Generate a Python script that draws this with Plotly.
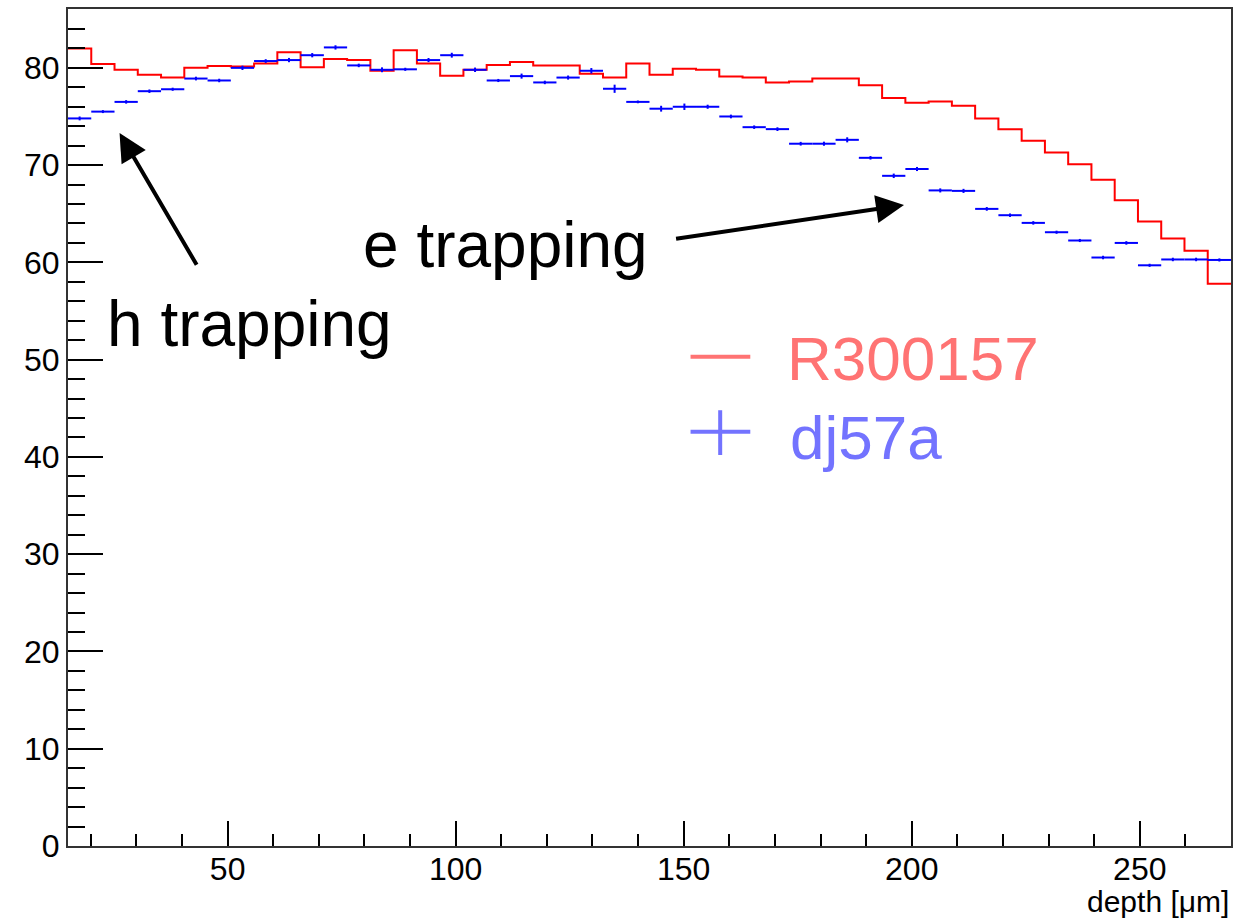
import plotly.graph_objects as go

# Histogram binning (depth in micrometres)
bin_lo, bin_hi, n_bins = 15.0, 270.0, 50

# R300157: histogram contents per bin
r300157 = [82.0, 80.4, 79.8, 79.3, 79.0, 80.0, 80.2, 80.15, 80.45, 81.6,
           80.05, 80.9, 80.8, 79.7, 81.8, 80.45, 79.2, 79.8, 80.3, 80.6,
           80.25, 80.25, 79.4, 79.0, 80.45, 79.3, 79.9, 79.8, 79.1, 79.0,
           78.5, 78.6, 78.9, 78.9, 78.2, 76.9, 76.4, 76.55, 76.1, 74.8,
           73.7, 72.5, 71.3, 70.1, 68.5, 66.4, 64.2, 62.45, 61.2, 57.8]

# dj57a: bin contents and their errors
dj57a = [74.8, 75.5, 76.5, 77.6, 77.8, 78.9, 78.7, 80.0, 80.7, 80.8,
         81.3, 82.1, 80.25, 79.8, 79.85, 80.8, 81.3, 79.8, 78.7, 79.15,
         78.5, 79.0, 79.7, 77.85, 76.5, 75.8, 76.0, 76.0, 75.0, 73.9,
         73.7, 72.2, 72.2, 72.6, 70.75, 68.9, 69.6, 67.4, 67.35, 65.5,
         64.85, 64.06, 63.1, 62.25, 60.5, 62.0, 59.7, 60.3, 60.3, 60.25]
dj57a_err = [0.2, 0.15, 0.18, 0.18, 0.16, 0.19, 0.18, 0.22, 0.19, 0.22,
             0.22, 0.22, 0.18, 0.25, 0.16, 0.21, 0.25, 0.23, 0.16, 0.26,
             0.18, 0.21, 0.28, 0.42, 0.14, 0.3, 0.33, 0.21, 0.19, 0.18,
             0.19, 0.19, 0.21, 0.26, 0.18, 0.23, 0.21, 0.21, 0.21, 0.19,
             0.18, 0.18, 0.16, 0.16, 0.18, 0.18, 0.16, 0.18, 0.18, 0.16]

width = (bin_hi - bin_lo) / n_bins
edges = [bin_lo + i * width for i in range(n_bins + 1)]
centers = [bin_lo + (i + 0.5) * width for i in range(n_bins)]

FONT = "Liberation Sans, Arial, Helvetica, sans-serif"
RED = "#ff0000"
BLUE = "#0000ff"

fig = go.Figure()

# step histogram for R300157
fig.add_trace(go.Scatter(
    x=edges, y=r300157 + [r300157[-1]],
    mode="lines", line=dict(color=RED, width=2, shape="hv"),
    showlegend=False, hoverinfo="skip",
))

# dj57a points with bin-width horizontal bars and vertical errors
fig.add_trace(go.Scatter(
    x=centers, y=dj57a, mode="markers",
    marker=dict(size=1, color=BLUE),
    error_x=dict(type="constant", value=width / 2, width=0, thickness=2, color=BLUE),
    error_y=dict(type="data", array=dj57a_err, width=0, thickness=2, color=BLUE),
    showlegend=False, hoverinfo="skip",
))

big = dict(family=FONT, size=64, color="black")
arrow_kw = dict(showarrow=True, arrowhead=2, arrowsize=1.4, arrowwidth=4,
                arrowcolor="black", axref="x", ayref="y", text="", standoff=0)

annotations = [
    dict(x=26.3, y=73.3, ax=43.4, ay=59.6, **arrow_kw),
    dict(x=198.3, y=65.9, ax=148.0, ay=62.4, **arrow_kw),
    dict(x=23.2, y=53.7, text="h trapping", showarrow=False,
         xanchor="left", yanchor="middle", font=big),
    dict(x=79.3, y=61.8, text="e trapping", showarrow=False,
         xanchor="left", yanchor="middle", font=big),
    # legend labels
    dict(x=172.3, y=50.1, text="R300157", showarrow=False,
         xanchor="left", yanchor="middle",
         font=dict(family=FONT, size=62, color="#ff7373")),
    dict(x=172.9, y=42.0, text="dj57a", showarrow=False,
         xanchor="left", yanchor="middle",
         font=dict(family=FONT, size=62, color="#7373ff")),
    # x-axis title, right aligned
    dict(x=1.0, y=-0.044, xref="paper", yref="paper", text="depth [μm]",
         showarrow=False, xanchor="right", yanchor="top",
         font=dict(family=FONT, size=30, color="black")),
]

shapes = [
    # legend samples
    dict(type="line", x0=151.5, x1=164.6, y0=50.3, y1=50.3,
         line=dict(color="#ff7373", width=4)),
    dict(type="line", x0=151.5, x1=164.6, y0=42.6, y1=42.6,
         line=dict(color="#7373ff", width=4)),
    dict(type="line", x0=158.0, x1=158.0, y0=40.2, y1=44.8,
         line=dict(color="#7373ff", width=4)),
]

fig.update_layout(
    width=1236, height=918,
    margin=dict(l=68, r=3, t=9, b=72),
    paper_bgcolor="white", plot_bgcolor="white",
    font=dict(family=FONT, size=32, color="black"),
    annotations=annotations, shapes=shapes,
    xaxis=dict(
        range=[bin_lo, bin_hi], tick0=0, dtick=50,
        ticks="inside", ticklen=25, tickwidth=2, tickcolor="black",
        minor=dict(dtick=10, ticks="inside", ticklen=12, tickwidth=2, tickcolor="black"),
        showgrid=False, zeroline=False,
        showline=True, linecolor="#333333", linewidth=2, mirror=True,
        tickfont=dict(family=FONT, size=32), ticklabelstandoff=-6,
    ),
    yaxis=dict(
        range=[0, 86.05], tick0=0, dtick=10,
        ticks="inside", ticklen=35, tickwidth=2, tickcolor="black",
        minor=dict(dtick=2, ticks="inside", ticklen=17, tickwidth=2, tickcolor="black"),
        showgrid=False, zeroline=False,
        showline=True, linecolor="#333333", linewidth=2, mirror=True,
        tickfont=dict(family=FONT, size=32),
    ),
)

fig.write_html("out.html")
